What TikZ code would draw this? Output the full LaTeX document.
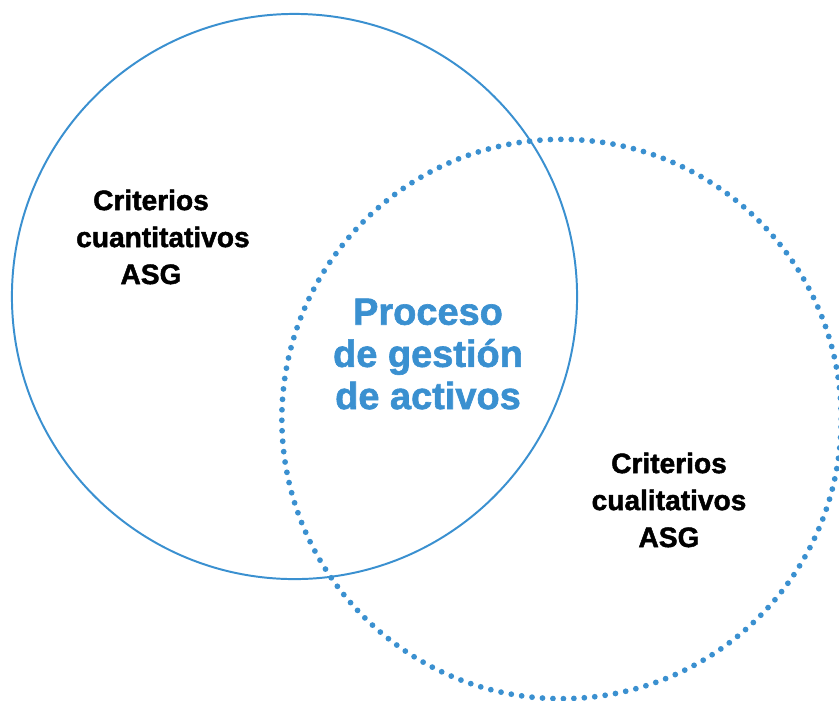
\documentclass[tikz,border=0pt]{standalone}
\usepackage{fontspec}
\setmainfont[BoldFeatures={FakeBold=1.6}]{Liberation Sans}
\usepackage{xcolor}
\definecolor{azulasg}{RGB}{58,144,208}
\usetikzlibrary{positioning}

\begin{document}
\begin{tikzpicture}[
    x=0.025cm, y=-0.025cm,
    aro/.style={draw=azulasg, line width=1.4pt},
    puntos/.style={draw=azulasg, line width=4.1pt, line cap=round,
                   dash pattern=on 0pt off 7.45pt},
    criterio/.style={align=center, font=\fontsize{20}{26.3}\selectfont\bfseries, text=black},
    proceso/.style={align=center, font=\fontsize{27}{30}\selectfont\bfseries, text=azulasg},
]
    \useasboundingbox (0,0) rectangle (839,700);

    % ── Circles ───────────────────────────────────
    \coordinate (cuanti) at (294.5,296.5);
    \coordinate (cuali)  at (561.5,419);
    \draw[aro]    (cuanti) circle[radius=7.0625cm];
    \draw[puntos] (cuali)  circle[radius=6.99cm];

    % ── Labels ────────────────────────────────────
    \node[criterio] (izq) at (151,237) {Criterios\\\hspace*{17pt}cuantitativos\\ASG};
    \node[criterio] (der) at (669,500) {Criterios\\cualitativos\\ASG};
    \node[proceso] (centro) at (428,354) {Proceso\\de gestión\\de activos};
\end{tikzpicture}
\end{document}
